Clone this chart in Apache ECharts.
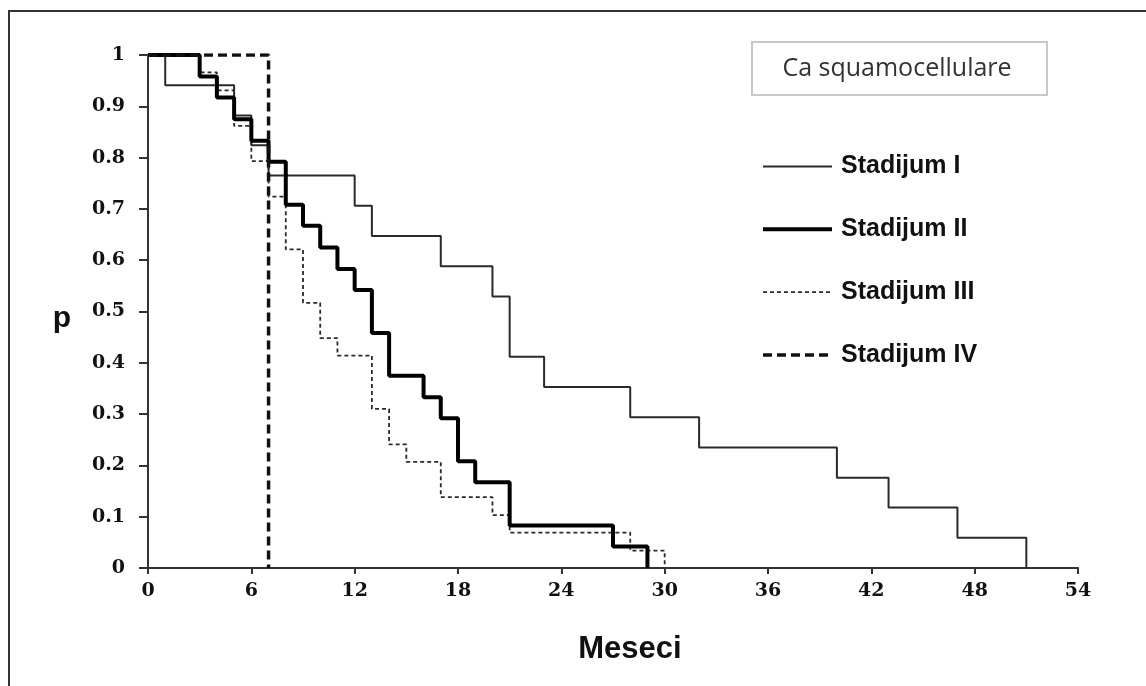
<!DOCTYPE html>
<html>
<head>
<meta charset="utf-8">
<script src="https://cdn.jsdelivr.net/npm/echarts@6/dist/echarts.min.js"></script>
<style>
  html, body { margin: 0; padding: 0; background: #fff; }
  #chart { width: 1146px; height: 686px; }
</style>
</head>
<body>
<div id="chart"></div>
<script>
// Kaplan-Meier survival by stage, squamous cell carcinoma
const monthTicks = [0, 6, 12, 18, 24, 30, 36, 42, 48, 54];
const seriesNames = ['Stadijum I', 'Stadijum II', 'Stadijum III', 'Stadijum IV'];

// event times (months) and survival probability after each step
const stadiumI_t = [0, 1, 5, 6, 7, 12, 13, 17, 20, 21, 23, 28, 32, 40, 43, 47, 51];
const stadiumI_p = [1, 0.941, 0.882, 0.824, 0.765, 0.706, 0.647, 0.588, 0.529, 0.412, 0.353, 0.294, 0.235, 0.176, 0.118, 0.059, 0];

const stadiumII_t = [0, 3, 4, 5, 6, 7, 8, 9, 10, 11, 12, 13, 14, 16, 17, 18, 19, 21, 27, 29];
const stadiumII_p = [1, 0.958, 0.917, 0.875, 0.833, 0.792, 0.708, 0.667, 0.625, 0.583, 0.542, 0.458, 0.375, 0.333, 0.292, 0.208, 0.167, 0.083, 0.042, 0];

const stadiumIII_t = [0, 3, 4, 5, 6, 7, 8, 9, 10, 11, 13, 14, 15, 17, 20, 21, 28, 30];
const stadiumIII_p = [1, 0.966, 0.931, 0.862, 0.793, 0.724, 0.621, 0.517, 0.448, 0.414, 0.310, 0.241, 0.207, 0.138, 0.103, 0.069, 0.034, 0];

const stadiumIV_t = [0, 7];
const stadiumIV_p = [1, 0];

const pairs = (t, p) => t.map((v, i) => [v, p[i]]);

const tickFont = { fontFamily: 'DejaVu Serif', fontWeight: 'bold', fontSize: 19, color: '#111' };

const chart = echarts.init(document.getElementById('chart'), null, { renderer: 'canvas' });

const lineStyles = [
  { color: '#2a2a2a', width: 2, type: 'solid' },
  { color: '#000', width: 4, type: 'solid' },
  { color: '#2a2a2a', width: 1.8, type: [4, 3] },
  { color: '#111', width: 3.5, type: [9, 5] }
];
const dataSets = [
  pairs(stadiumI_t, stadiumI_p),
  pairs(stadiumII_t, stadiumII_p),
  pairs(stadiumIII_t, stadiumIII_p),
  pairs(stadiumIV_t, stadiumIV_p)
];

chart.setOption({
  backgroundColor: '#fff',
  animation: false,
  grid: { left: 148, right: 68, top: 55, bottom: 118 },
  graphic: [
    // frame along the top and left edges
    { type: 'polyline', shape: { points: [[9, 700], [9, 11], [1160, 11]] },
      style: { stroke: '#333', lineWidth: 2, fill: null } },
    // caption box
    { type: 'rect', shape: { x: 752, y: 42, width: 295, height: 53 },
      style: { stroke: '#c8c8c8', lineWidth: 2, fill: '#fff' } },
    { type: 'text', x: 897, y: 69,
      style: { text: 'Ca squamocellulare', fill: '#333', font: '25px "Open Sans"',
               textAlign: 'center', textVerticalAlign: 'middle' } }
  ],
  legend: {
    orient: 'vertical',
    left: 756,
    top: 149,
    itemWidth: 69,
    itemHeight: 14,
    itemGap: 37.8,
    data: seriesNames.map((name, i) => ({
      name,
      lineStyle: { width: lineStyles[i].width, type: lineStyles[i].type, color: lineStyles[i].color }
    })),
    itemStyle: { opacity: 0 },
    textStyle: { fontFamily: 'Liberation Sans', fontWeight: 'bold', fontSize: 25, color: '#111',
                 padding: [0, 0, 0, 4] }
  },
  xAxis: {
    type: 'value',
    min: 0, max: 54, interval: 6,
    name: 'Meseci',
    nameLocation: 'middle',
    nameGap: 66,
    nameTextStyle: { fontFamily: 'Liberation Sans', fontWeight: 'bold', fontSize: 31, color: '#111',
                     padding: [0, 0, 0, 34] },
    axisLine: { show: true, onZero: false, lineStyle: { color: '#333', width: 2 } },
    axisTick: { show: true, length: 6, lineStyle: { color: '#333', width: 2 } },
    axisLabel: Object.assign({ margin: 14, formatter: v => monthTicks.includes(v) ? String(v) : '' }, tickFont),
    splitLine: { show: false }
  },
  yAxis: {
    type: 'value',
    min: 0, max: 1, interval: 0.1,
    name: 'p',
    nameLocation: 'middle',
    nameRotate: 0,
    nameGap: 77,
    nameTextStyle: { fontFamily: 'Liberation Sans', fontWeight: 'bold', fontSize: 30, color: '#111',
                     verticalAlign: 'top', lineHeight: 14 },
    axisLine: { show: true, lineStyle: { color: '#333', width: 2 } },
    axisTick: { show: true, length: 9, lineStyle: { color: '#333', width: 2 } },
    axisLabel: Object.assign({ margin: 23, formatter: v => String(Math.round(v * 10) / 10) }, tickFont),
    splitLine: { show: false }
  },
  series: seriesNames.map((name, i) => ({
    name,
    type: 'line',
    step: 'end',
    symbol: 'none',
    data: dataSets[i],
    lineStyle: lineStyles[i],
    itemStyle: { color: lineStyles[i].color },
    z: i === 3 ? 5 : (i === 1 ? 4 : 3)
  }))
});
</script>
</body>
</html>
